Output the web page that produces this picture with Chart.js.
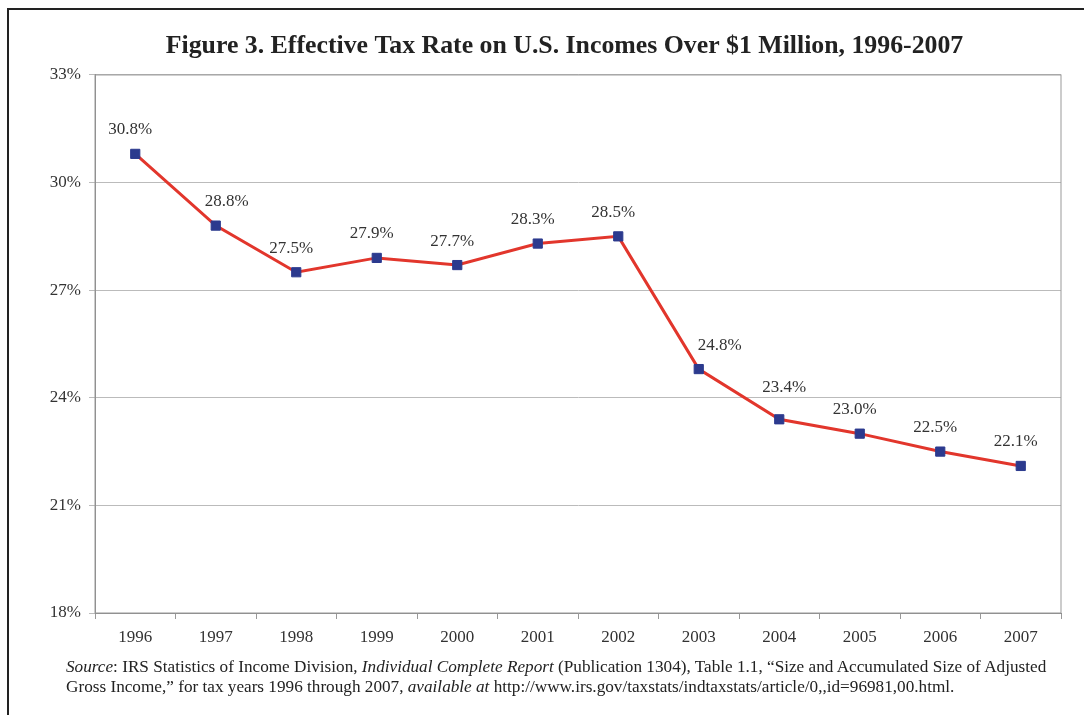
<!DOCTYPE html>
<html>
<head>
<meta charset="utf-8">
<script src="https://cdn.jsdelivr.net/npm/chart.js@4.4.1/dist/chart.umd.min.js"></script>
<style>
  body { margin: 0; background: #fff; }
  #wrap { position: relative; width: 1084px; height: 715px; overflow: hidden; }
  #frame { position: absolute; left: 7px; top: 8px; width: 1200px; height: 800px; border-left: 2px solid #222; border-top: 2px solid #222; }
  #source { position: absolute; left: 66px; top: 657px; font: 17.2px "Liberation Serif", "Times New Roman", serif; color: #222; line-height: 20px; white-space: nowrap; }
  canvas { position: absolute; left: 0; top: 0; }
</style>
</head>
<body>
<div id="wrap">
  <div id="frame"></div>
  <canvas id="chart" width="1084" height="715"></canvas>
  <div id="source"><i>Source</i>: IRS Statistics of Income Division, <i>Individual Complete Report</i> (Publication 1304), Table 1.1, “Size and Accumulated Size of Adjusted<br>Gross Income,” for tax years 1996 through 2007, <i>available at</i> http://www.irs.gov/taxstats/indtaxstats/article/0,,id=96981,00.html.</div>
</div>
<script>
const years = ['1996', '1997', '1998', '1999', '2000', '2001', '2002', '2003', '2004', '2005', '2006', '2007']
const taxRates = [30.8, 28.8, 27.5, 27.9, 27.7, 28.3, 28.5, 24.8, 23.4, 23.0, 22.5, 22.1]
const yTicks = [18, 21, 24, 27, 30, 33]

const serif = '"Liberation Serif", "Times New Roman", serif'

// a few labels were nudged by hand in the original
const labelNudge = { 1: [16, 0], 7: [26, 0], 8: [10, -8] }

// Labels above each point, plus the grey box round the plot
const pointLabels = {
  id: 'pointLabels',
  afterLayout(chart) {
    // original title is centred a little right of the canvas middle
    if (chart.titleBlock) chart.titleBlock.left = 68
  },
  beforeDatasetsDraw(chart) {
    const a = chart.chartArea
    const ctx = chart.ctx
    ctx.save()
    ctx.strokeStyle = '#999'
    ctx.lineWidth = 1
    ctx.strokeRect(a.left, a.top, a.right - a.left, a.bottom - a.top)
    ctx.restore()
  },
  afterDatasetsDraw(chart) {
    const ctx = chart.ctx
    const meta = chart.getDatasetMeta(0)
    ctx.save()
    ctx.font = '17px ' + serif
    ctx.fillStyle = '#333'
    ctx.textAlign = 'center'
    ctx.textBaseline = 'middle'
    meta.data.forEach((pt, i) => {
      const [dx, dy] = labelNudge[i] || [0, 0]
      ctx.fillText(taxRates[i].toFixed(1) + '%', pt.x - 5 + dx, pt.y - 24 + dy)
    })
    ctx.restore()
  }
}

new Chart(document.getElementById('chart'), {
  type: 'line',
  data: {
    labels: years,
    datasets: [{
      data: taxRates,
      borderColor: '#e2362c',
      borderWidth: 3,
      pointStyle: 'rect',
      pointRadius: 6.5,
      pointBackgroundColor: '#2c3a8e',
      pointBorderColor: '#2c3a8e',
      pointBorderWidth: 1,
      tension: 0
    }]
  },
  options: {
    responsive: false,
    animation: false,
    layout: { padding: { left: 0, right: 23, top: 0, bottom: 0 } },
    plugins: {
      legend: { display: false },
      tooltip: { enabled: false },
      title: {
        display: true,
        text: 'Figure 3. Effective Tax Rate on U.S. Incomes Over $1 Million, 1996-2007',
        color: '#222',
        font: { family: serif, size: 25.8, weight: 'bold', lineHeight: 1.2 },
        padding: { top: 30.5, bottom: 13.5 }
      }
    },
    scales: {
      x: {
        offset: true,
        grid: { offset: true, drawOnChartArea: false, drawTicks: true, tickLength: 6, color: '#999' },
        border: { color: '#888' },
        ticks: { color: '#333', padding: 8, font: { family: serif, size: 17 } },
        afterFit: s => { s.height = 102 }
      },
      y: {
        min: 18,
        max: 33,
        afterBuildTicks: s => { s.ticks = yTicks.map(v => ({ value: v })) },
        grid: { color: '#bbb', tickLength: 6 },
        border: { color: '#888' },
        ticks: { color: '#333', padding: 8, font: { family: serif, size: 17 }, callback: v => v + '%' },
        afterFit: s => { s.width = 95 }
      }
    }
  },
  plugins: [pointLabels]
})
</script>
</body>
</html>
